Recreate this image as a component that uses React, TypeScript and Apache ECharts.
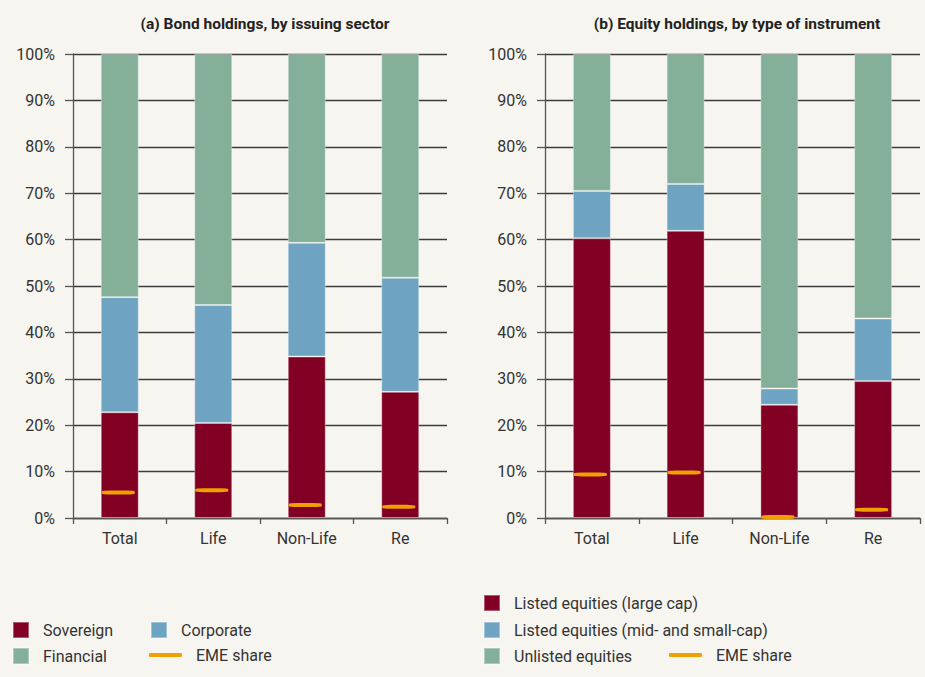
import React, { useEffect, useRef } from "react";
import * as echarts from "echarts";

const categories = ["Total", "Life", "Non-Life", "Re"];

// Panel (a) Bond holdings, by issuing sector (% of total)
const sovereign = [22.8, 20.5, 34.8, 27.2];
const corporate = [24.8, 25.4, 24.5, 24.6];
const financial = [52.4, 54.1, 40.7, 48.2];
const emeBonds = [5.5, 6.0, 2.8, 2.4];

// Panel (b) Equity holdings, by type of instrument (% of total)
const largeCap = [60.3, 61.9, 24.4, 29.5];
const midSmallCap = [10.2, 10.1, 3.5, 13.5];
const unlisted = [29.5, 28.0, 72.1, 57.0];
const emeEquity = [9.4, 9.8, 0.2, 1.8];

const titles = ["(a) Bond holdings, by issuing sector", "(b) Equity holdings, by type of instrument"];

const C_RED = "#820024";
const C_BLUE = "#6fa3c2";
const C_GREEN = "#84b09a";
const C_ORANGE = "#f0a000";
const TEXT = "#333333";
const FONT = "Roboto, 'Noto Sans', sans-serif";

export default function App() {
  const ref = useRef<HTMLDivElement>(null);
  useEffect(() => {
    if (!ref.current) return;
    const chart = echarts.init(ref.current, undefined, { renderer: "svg" });
    const grids = [
      { left: 73, top: 54, width: 374, height: 464 },
      { left: 545, top: 54, width: 375, height: 464 },
    ];
    const xAxis = grids.map((_, i) => ({
      type: "category",
      gridIndex: i,
      data: categories,
      axisLine: { lineStyle: { color: "#555", width: 1.3 } },
      axisTick: { show: true, length: 6, lineStyle: { color: "#555", width: 1.3 } },
      axisLabel: { color: TEXT, fontSize: 16, fontFamily: FONT, margin: 12 },
    }));
    const yAxis = grids.map((_, i) => ({
      type: "value",
      gridIndex: i,
      min: 0,
      max: 100,
      interval: 10,
      axisLine: { show: true, lineStyle: { color: "#555", width: 1.3 } },
      axisTick: { show: true, length: 8, lineStyle: { color: "#555", width: 1.3 } },
      axisLabel: { color: TEXT, fontSize: 16, fontFamily: FONT, formatter: "{value}%", margin: 18 },
      splitLine: { show: true, lineStyle: { color: "#3c3c3c", width: 1.3 } },
    }));
    const barBase = (name: string, data: number[], color: string, idx: number, stack: string) => ({
      name,
      type: "bar",
      stack,
      xAxisIndex: idx,
      yAxisIndex: idx,
      data,
      barWidth: 38,
      itemStyle: { color, borderColor: "rgba(255,255,255,0.35)", borderWidth: 1 },
    });
    const eme = (data: number[], idx: number) => ({
      name: "EME share",
      type: "scatter",
      xAxisIndex: idx,
      yAxisIndex: idx,
      data,
      symbol: "roundRect",
      symbolSize: [33, 4],
      symbolOffset: [-1.5, 0],
      itemStyle: { color: C_ORANGE, opacity: 1 },
      z: 5,
    });
    const legendItem = (name: string, left: number, top: number, icon: string, w: number, h: number) => ({
      data: [{ name, icon }],
      left,
      top,
      padding: 0,
      itemWidth: w,
      itemHeight: h,
      selectedMode: false,
      textStyle: { color: TEXT, fontSize: 16, fontFamily: FONT, lineHeight: 16, padding: [0, 0, 0, 9] },
    });
    chart.setOption({
      animation: false,
      backgroundColor: "#f7f5f0",
      title: [
        {
          text: titles[0],
          left: 260,
          top: 11,
          textAlign: "center",
          textStyle: { color: "#222", fontSize: 15.5, fontWeight: "bold", fontFamily: FONT },
        },
        {
          text: titles[1],
          left: 732,
          top: 11,
          textAlign: "center",
          textStyle: { color: "#222", fontSize: 15.5, fontWeight: "bold", fontFamily: FONT },
        },
      ],
      grid: grids,
      xAxis,
      yAxis,
      legend: [
        legendItem("Sovereign", 12, 621, "rect", 16, 16),
        legendItem("Corporate", 150, 621, "rect", 16, 16),
        legendItem("Financial", 12, 647, "rect", 16, 16),
        legendItem("EME share", 149, 647, "roundRect", 33, 4),
        legendItem("Listed equities (large cap)", 483, 594, "rect", 16, 16),
        legendItem("Listed equities (mid- and small-cap)", 483, 621, "rect", 16, 16),
        legendItem("Unlisted equities", 483, 647, "rect", 16, 16),
        legendItem("EME share", 669, 647, "roundRect", 33, 4),
      ],
      series: [
        barBase("Sovereign", sovereign, C_RED, 0, "a"),
        barBase("Corporate", corporate, C_BLUE, 0, "a"),
        barBase("Financial", financial, C_GREEN, 0, "a"),
        eme(emeBonds, 0),
        barBase("Listed equities (large cap)", largeCap, C_RED, 1, "b"),
        barBase("Listed equities (mid- and small-cap)", midSmallCap, C_BLUE, 1, "b"),
        barBase("Unlisted equities", unlisted, C_GREEN, 1, "b"),
        eme(emeEquity, 1),
      ],
    });
    return () => chart.dispose();
  }, []);
  return <div ref={ref} style={{ width: 925, height: 677, position: "fixed", left: 0, top: 0 }} />;
}
